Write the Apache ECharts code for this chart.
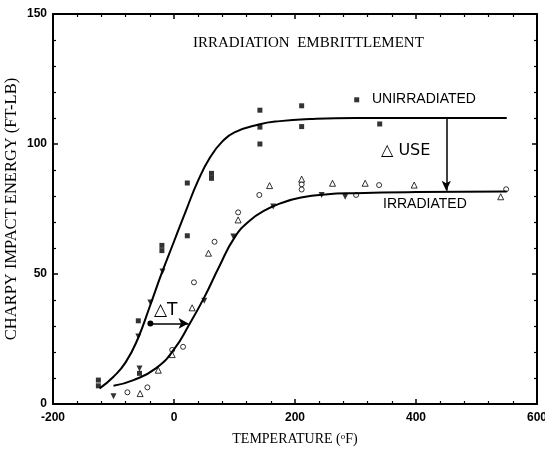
<!DOCTYPE html>
<html><head><meta charset="utf-8">
<script src="https://cdn.jsdelivr.net/npm/echarts@6/dist/echarts.min.js"></script>
<style>html,body{margin:0;padding:0;background:#fff}#c{width:545px;height:452px}</style>
</head><body><div id="c"></div>
<script>
// Fitted curves
var upperT = [-123, -100, -80, -60, -40, -20, 0, 20, 40, 60, 80, 100, 140, 175, 225, 300, 400, 550];
var upperE = [6, 10.5, 16, 25, 37.5, 50.5, 62.5, 74.5, 86, 95, 101, 104.5, 107.5, 108.8, 109.6, 110, 110, 110];
var lowerT = [-100, -67, -30, 0, 25, 50, 75, 100, 125, 150, 180, 210, 250, 300, 400, 550];
var lowerE = [7, 9.2, 13.7, 21, 30.5, 41, 53, 64, 70.5, 74.5, 77.5, 79.4, 80.6, 81.1, 81.5, 81.7];
// Data points
var sqT = [-125, -125, -59, -57, -20, -20, 22, 22, 62, 62, 142, 142, 142, 211, 211, 302, 340];
var sqE = [9.2, 7, 32, 11.8, 61, 59, 85, 64.7, 88.7, 86.8, 113, 106.5, 100, 114.7, 106.7, 117, 107.7];
var dtT = [-100, -57, -59, -39, -19, 50, 98, 164, 244, 283];
var dtE = [3, 13.7, 26, 39, 51, 39.7, 64.4, 76, 80.4, 79.7];
var ocT = [-77, -44, -3, 15, 33, 67, 106, 141, 211, 211, 301, 339, 549];
var ocE = [4.5, 6.4, 20.8, 22, 46.8, 62.4, 73.7, 80.4, 84.5, 82.5, 80.4, 84.2, 82.6];
var otT = [-56, -26, -3, 30, 57, 106, 158, 211, 262, 316, 397, 540];
var otE = [4, 13, 19, 37, 58, 70.8, 84, 86.5, 84.9, 84.9, 84.2, 79.7];
// Annotations
var useT = 450, useTop = 110, useBot = 82;
var dTy = 31, dTleft = -39, dTright = 24;
var xTicks = [-200, 600, 200];
var yTicks = [0, 150, 50];

function pairs(a, b) { return a.map(function (v, i) { return [v, b[i]]; }); }

var chart = echarts.init(document.getElementById('c'), null, {renderer: 'canvas'});
var axisCommon = {
  type: 'value', splitLine: {show: false},
  axisLine: {show: true, onZero: false, lineStyle: {color: '#000', width: 2}},
  axisTick: {show: true, inside: true, length: 5, lineStyle: {color: '#000', width: 1.5}},
  minorTick: {show: true, splitNumber: 5, length: 3, lineStyle: {color: '#000', width: 1.2}}
};
function ax(extra) { return Object.assign({}, JSON.parse(JSON.stringify(axisCommon)), extra); }
var lblStyle = {color: '#000', fontFamily: 'Liberation Sans, Arial', fontSize: 12, fontWeight: 'bold'};

chart.setOption({
  animation: false,
  backgroundColor: '#fff',
  grid: {left: 53, right: 8, top: 14, bottom: 48, containLabel: false, outerBoundsMode: 'none'},
  xAxis: [
    ax({min: xTicks[0], max: xTicks[1], interval: xTicks[2], position: 'bottom',
      axisLabel: Object.assign({margin: 8}, lblStyle),
      name: '{a|TEMPERATURE (}{s|o}{a|F)}', nameLocation: 'middle', nameGap: 28, nameMoveOverlap: false,
      nameTextStyle: {rich: {
        a: {fontFamily: 'Liberation Serif, Times New Roman', fontSize: 14, color: '#000'},
        s: {fontFamily: 'Liberation Serif, Times New Roman', fontSize: 9, color: '#000', verticalAlign: 'top', padding: [0, 0, 6, 0]}
      }}}),
    ax({min: xTicks[0], max: xTicks[1], interval: xTicks[2], position: 'top', axisLabel: {show: false}})
  ],
  yAxis: [
    ax({min: yTicks[0], max: yTicks[1], interval: yTicks[2], position: 'left',
      axisLabel: Object.assign({margin: 6}, lblStyle),
      name: 'CHARPY IMPACT ENERGY (FT-LB)', nameLocation: 'middle', nameGap: 33, nameMoveOverlap: false,
      nameTextStyle: {fontFamily: 'Liberation Serif, Times New Roman', fontSize: 16.5, color: '#000'}}),
    ax({min: yTicks[0], max: yTicks[1], interval: yTicks[2], position: 'right', axisLabel: {show: false}})
  ],
  series: [
    {type: 'line', data: pairs(upperT, upperE), smooth: 0.5, symbol: 'none',
      lineStyle: {color: '#000', width: 2}},
    {type: 'line', data: pairs(lowerT, lowerE), smooth: 0.5, symbol: 'none',
      lineStyle: {color: '#000', width: 2},
      markLine: {silent: true, animation: false, label: {show: false},
        lineStyle: {color: '#000', width: 1.5, type: 'solid'},
        data: [
          [{coord: [useT, useTop], symbol: 'none'}, {coord: [useT, useBot], symbol: 'arrow', symbolSize: [7, 10]}],
          [{coord: [dTleft, dTy], symbol: 'circle', symbolSize: 6}, {coord: [dTright, dTy], symbol: 'arrow', symbolSize: [8, 10]}]
        ]}},
    {type: 'scatter', data: pairs(sqT, sqE), symbol: 'rect', symbolSize: 5,
      itemStyle: {color: '#000'}},
    {type: 'scatter', data: pairs(dtT, dtE), symbol: 'triangle', symbolRotate: 180, symbolSize: 6,
      itemStyle: {color: '#000'}},
    {type: 'scatter', data: pairs(ocT, ocE), symbol: 'circle', symbolSize: 5,
      itemStyle: {color: '#fff', borderColor: '#000', borderWidth: 1}},
    {type: 'scatter', data: pairs(otT, otE), symbol: 'triangle', symbolSize: 6,
      itemStyle: {color: '#fff', borderColor: '#000', borderWidth: 1}}
  ],
  graphic: [
    {type: 'text', left: 193, top: 36, style: {text: 'IRRADIATION  EMBRITTLEMENT', fill: '#000',
      font: '15px "Liberation Serif", "Times New Roman", serif'}},
    {type: 'text', left: 372, top: 92, style: {text: 'UNIRRADIATED', fill: '#000',
      font: '14px "Liberation Sans", Arial, sans-serif'}},
    {type: 'text', left: 381, top: 143, style: {text: '\u25B3 USE', fill: '#000',
      font: '16px "DejaVu Sans", "Liberation Sans", sans-serif'}},
    {type: 'text', left: 383, top: 197, style: {text: 'IRRADIATED', fill: '#000',
      font: '14px "Liberation Sans", Arial, sans-serif'}},
    {type: 'text', left: 154, top: 302, style: {text: '\u25B3T', fill: '#000',
      font: '17px "DejaVu Sans", "Liberation Sans", sans-serif'}}
  ]
});
</script></body></html>
